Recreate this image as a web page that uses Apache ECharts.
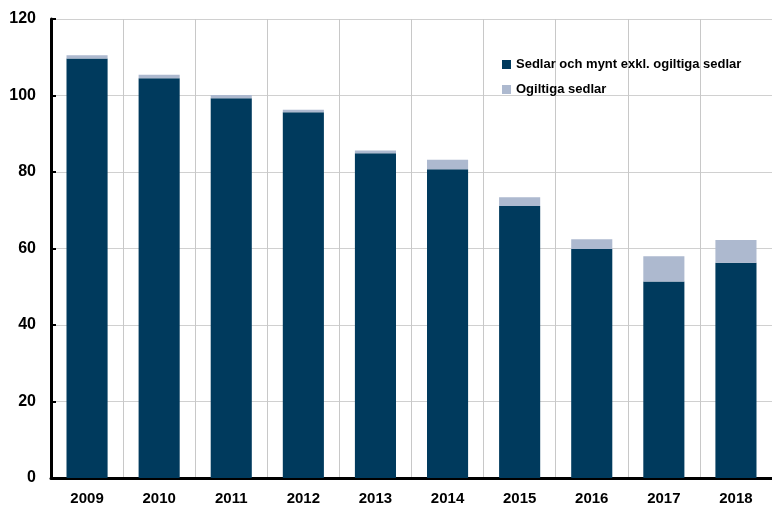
<!DOCTYPE html>
<html><head><meta charset="utf-8">
<script src="https://cdn.jsdelivr.net/npm/echarts@6/dist/echarts.min.js"></script>
<style>html,body{margin:0;padding:0;background:#fff}#c{width:772px;height:506px}</style>
</head><body><div id="c"></div>
<script>
const categories = ['2009','2010','2011','2012','2013','2014','2015','2016','2017','2018'];
const valid = [109.7,104.5,99.3,95.6,84.9,80.7,71.1,59.9,51.4,56.3];
const invalid = [0.8,0.9,0.8,0.7,0.7,2.5,2.3,2.5,6.6,5.9];
const seriesNames = ['Sedlar och mynt exkl. ogiltiga sedlar','Ogiltiga sedlar'];
const yTicks = {min:0,max:120,interval:20};

const chart = echarts.init(document.getElementById('c'));
const font = '"Liberation Sans", Arial, sans-serif';
chart.setOption({
  animation:false,
  textStyle:{fontFamily:font},
  grid:{left:51,top:19,width:727,bottom:28,containLabel:false},
  legend:{orient:'vertical',left:497,top:53,itemWidth:9,itemHeight:9,itemGap:12,
    icon:'rect',
    textStyle:{fontFamily:font,fontWeight:'bold',fontSize:13,color:'#000'},
    data:seriesNames},
  xAxis:{type:'category',data:categories,
    axisLine:{lineStyle:{color:'#000',width:3}},
    axisTick:{inside:true,length:5,lineStyle:{color:'#000',width:2}},
    splitLine:{show:true,lineStyle:{color:'#c8c8c8',width:1}},
    axisLabel:{color:'#000',fontWeight:'bold',fontSize:15,margin:13}},
  yAxis:{type:'value',min:yTicks.min,max:yTicks.max,interval:yTicks.interval,
    axisLine:{show:true,lineStyle:{color:'#000',width:3}},
    axisTick:{show:true,inside:true,length:5,lineStyle:{color:'#000',width:2}},
    splitLine:{lineStyle:{color:'#d0d0d0',width:1}},
    axisLabel:{color:'#000',fontWeight:'bold',fontSize:16,margin:15}},
  series:[
    {name:seriesNames[0],type:'bar',stack:'t',data:valid,barWidth:'57%',
     itemStyle:{color:'#003a5d'}},
    {name:seriesNames[1],type:'bar',stack:'t',data:invalid,barWidth:'57%',
     itemStyle:{color:'#adb9cf'}}
  ]
});
</script></body></html>
